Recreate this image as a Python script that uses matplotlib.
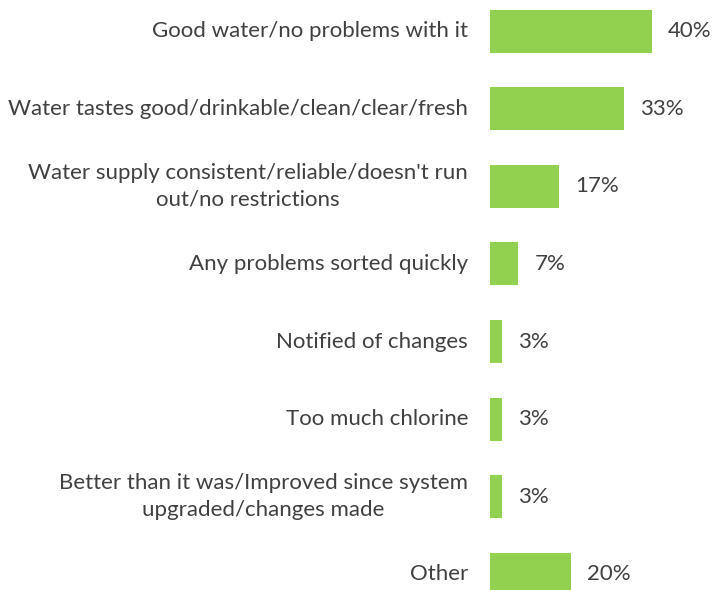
import matplotlib.pyplot as plt

categories = [
    "Good water/no problems with it",
    "Water tastes good/drinkable/clean/clear/fresh",
    "Water supply consistent/reliable/doesn't run\nout/no restrictions",
    "Any problems sorted quickly",
    "Notified of changes",
    "Too much chlorine",
    "Better than it was/Improved since system\nupgraded/changes made",
    "Other",
]
values = [40, 33, 17, 7, 3, 3, 3, 20]

bar_color = "#92D050"
text_color = "#404040"
plt.rcParams["font.family"] = ["Lato", "DejaVu Sans"]

fig = plt.figure(figsize=(7.16, 5.9), dpi=100)
ax = fig.add_axes([490 / 716, 0, 226 / 716, 1])

pos = list(range(len(values)))
ax.barh(pos, values, height=0.555, color=bar_color)
ax.set_xlim(0, 226 / 4.05)
ax.set_ylim(7.2, -0.4)

for i, (cat, v) in enumerate(zip(categories, values)):
    ax.annotate(cat, xy=(0, i), xytext=(-22, 0), textcoords="offset pixels",
                ha="right", va="center", multialignment="center",
                fontsize=16, color=text_color, linespacing=1.45)
    ax.annotate(f"{v}%", xy=(v, i), xytext=(16, 0), textcoords="offset pixels",
                ha="left", va="center", fontsize=16, color=text_color)

ax.axis("off")
fig.savefig("out.png", dpi=100)
